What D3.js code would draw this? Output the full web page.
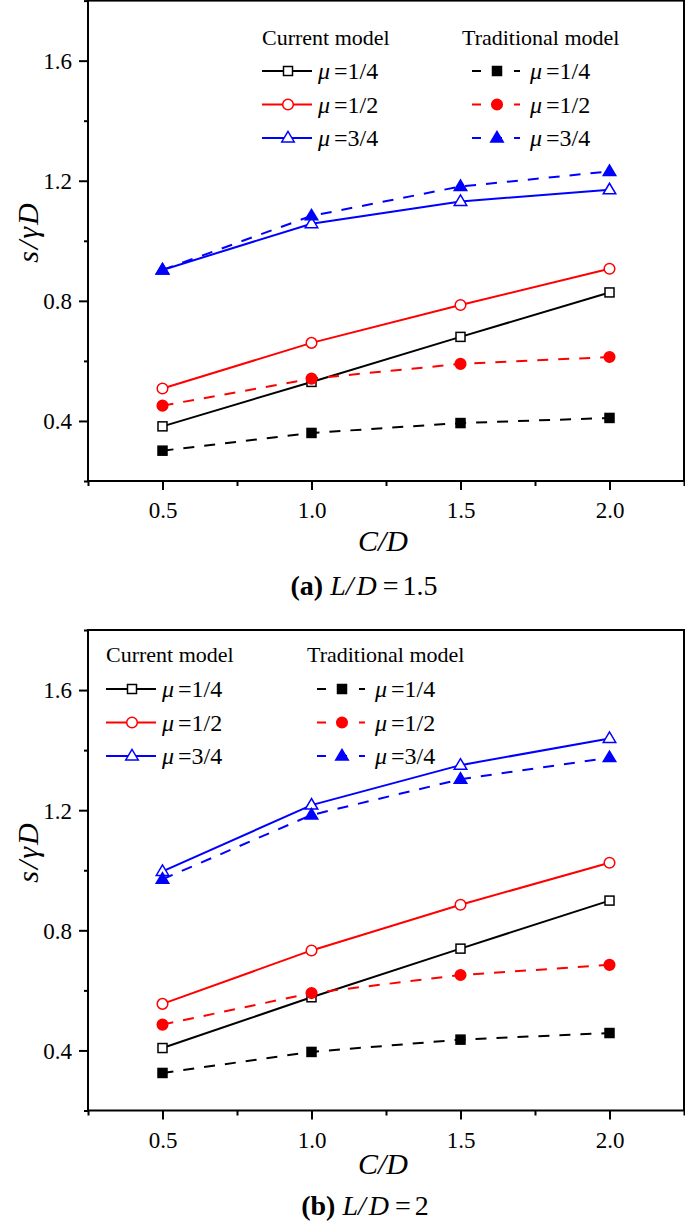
<!DOCTYPE html>
<html>
<head>
<meta charset="utf-8">
<script src="https://cdn.jsdelivr.net/npm/d3@7"></script>
<style>
  body { margin: 0; background: #fff; }
  svg { display: block; }
  svg text { font-family: "Liberation Serif", "DejaVu Serif", serif; }
</style>
</head>
<body>
<svg id="chart" width="685" height="1227"></svg>
<script>
// ---- Data ----
const xValues = [0.5, 1.0, 1.5, 2.0];
const xTicks = [0.5, 1.0, 1.5, 2.0];
const yTicks = [0.4, 0.8, 1.2, 1.6];
const muLabels = ["1/4", "1/2", "3/4"];
const seriesColors = ["#000000", "#ff0000", "#0000ff"];
const seriesShapes = ["square", "circle", "triangle"];

// Panel (a) L/D = 1.5
const aCurrentMu14 = [0.382, 0.530, 0.680, 0.828];
const aCurrentMu12 = [0.508, 0.660, 0.786, 0.907];
const aCurrentMu34 = [0.903, 1.057, 1.131, 1.170];
const aTraditionalMu14 = [0.301, 0.360, 0.393, 0.410];
const aTraditionalMu12 = [0.451, 0.541, 0.590, 0.613];
const aTraditionalMu34 = [0.903, 1.083, 1.181, 1.231];

// Panel (b) L/D = 2
const bCurrentMu14 = [0.408, 0.577, 0.739, 0.899];
const bCurrentMu12 = [0.555, 0.733, 0.885, 1.025];
const bCurrentMu34 = [0.996, 1.217, 1.350, 1.439];
const bTraditionalMu14 = [0.325, 0.395, 0.436, 0.458];
const bTraditionalMu12 = [0.486, 0.591, 0.651, 0.685];
const bTraditionalMu34 = [0.970, 1.184, 1.303, 1.375];

const xDomain = [0.25, 2.25];
const yDomain = [0.2, 1.8];
const SERIF = "Liberation Serif";

const svg = d3.select("#chart");

function drawMarker(g, shape, x, y, color, filled) {
  const fill = filled ? color : "#ffffff";
  if (shape === "square") {
    g.append("rect").attr("x", x - 4.5).attr("y", y - 4.5).attr("width", 9).attr("height", 9)
      .attr("fill", fill).attr("stroke", color).attr("stroke-width", 1.5);
  } else if (shape === "circle") {
    g.append("circle").attr("cx", x).attr("cy", y).attr("r", 5.3)
      .attr("fill", fill).attr("stroke", color).attr("stroke-width", 1.5);
  } else {
    const h = 10.5, w = 12.5;
    const pts = [[x, y - h * 0.62], [x - w / 2, y + h * 0.38], [x + w / 2, y + h * 0.38]];
    g.append("path").attr("d", "M" + pts.map(p => p.join(",")).join("L") + "Z")
      .attr("fill", fill).attr("stroke", color).attr("stroke-width", 1.5).attr("stroke-linejoin", "miter");
  }
}

function muText(g, x, y, lab) {
  const t = g.append("text").attr("x", x).attr("y", y).attr("font-size", 24).attr("font-family", SERIF);
  t.append("tspan").attr("font-style", "italic").text("μ");
  t.append("tspan").attr("dx", 4).text("=" + lab);
}

function drawPanel(cfg) {
  const g = svg.append("g");
  const x = d3.scaleLinear().domain(xDomain).range([cfg.left, cfg.right]);
  const y = d3.scaleLinear().domain(yDomain).range([cfg.bottom, cfg.top]);

  const yMinor = d3.range(0.2, 1.81, 0.2).map(v => +v.toFixed(2)).filter(v => !yTicks.some(t => Math.abs(t - v) < 1e-6));
  const xMinor = d3.range(0.25, 2.26, 0.25).map(v => +v.toFixed(2)).filter(v => !xTicks.some(t => Math.abs(t - v) < 1e-6));

  const yAxis = g.append("g").attr("transform", `translate(${cfg.left},0)`)
    .call(d3.axisLeft(y).tickValues(yTicks).tickFormat(d3.format(".1f")).tickSize(9).tickPadding(7));
  g.append("g").attr("transform", `translate(${cfg.left},0)`)
    .call(d3.axisLeft(y).tickValues(yMinor).tickFormat("").tickSize(4));
  const xAxis = g.append("g").attr("transform", `translate(0,${cfg.bottom})`)
    .call(d3.axisBottom(x).tickValues(xTicks).tickFormat(d3.format(".1f")).tickSize(9).tickPadding(12));
  g.append("g").attr("transform", `translate(0,${cfg.bottom})`)
    .call(d3.axisBottom(x).tickValues(xMinor).tickFormat("").tickSize(5));

  g.selectAll(".domain").remove();
  g.selectAll("g").attr("font-family", SERIF);
  g.selectAll(".tick line").attr("stroke", "#000").attr("stroke-width", 2);
  g.selectAll(".tick text").attr("font-family", SERIF).attr("font-size", 23).attr("fill", "#000");
  yAxis.selectAll(".tick text").attr("dy", "0.34em");
  xAxis.selectAll(".tick text").attr("dy", "0.71em");

  // Frame
  g.append("rect").attr("x", cfg.left).attr("y", cfg.top)
    .attr("width", cfg.right - cfg.left).attr("height", cfg.bottom - cfg.top)
    .attr("fill", "none").attr("stroke", "#000").attr("stroke-width", 2);

  const line = d3.line().x((d, i) => x(xValues[i])).y(d => y(d));

  cfg.current.forEach((vals, k) => {
    g.append("path").attr("d", line(vals)).attr("fill", "none")
      .attr("stroke", seriesColors[k]).attr("stroke-width", 2);
    vals.forEach((v, i) => drawMarker(g, seriesShapes[k], x(xValues[i]), y(v), seriesColors[k], false));
  });
  cfg.traditional.forEach((vals, k) => {
    g.append("path").attr("d", line(vals)).attr("fill", "none")
      .attr("stroke", seriesColors[k]).attr("stroke-width", 2).attr("stroke-dasharray", "11,10");
    vals.forEach((v, i) => drawMarker(g, seriesShapes[k], x(xValues[i]), y(v), seriesColors[k], true));
  });

  // Legend
  const L = cfg.legend;
  const rowGap = 33.5;
  g.append("text").attr("x", L.cx).attr("y", L.titleY).attr("font-size", 22).attr("font-family", SERIF).text("Current model");
  g.append("text").attr("x", L.tx).attr("y", L.titleY).attr("font-size", 22).attr("font-family", SERIF).text("Traditional model");
  muLabels.forEach((lab, k) => {
    const ry = L.row1 + k * rowGap;
    g.append("line").attr("x1", L.cx).attr("x2", L.cx + 50).attr("y1", ry).attr("y2", ry)
      .attr("stroke", seriesColors[k]).attr("stroke-width", 2);
    drawMarker(g, seriesShapes[k], L.cx + 26, ry, seriesColors[k], false);
    muText(g, L.cx + 56, ry + 8, lab);
    g.append("line").attr("x1", L.tx + 10).attr("x2", L.tx + 58).attr("y1", ry).attr("y2", ry)
      .attr("stroke", seriesColors[k]).attr("stroke-width", 2).attr("stroke-dasharray", "9,12");
    drawMarker(g, seriesShapes[k], L.tx + 35, ry, seriesColors[k], true);
    muText(g, L.tx + 68, ry + 8, lab);
  });

  // Axis titles
  g.append("text").attr("x", (cfg.left + cfg.right) / 2 - 3).attr("y", cfg.xTitleY)
    .attr("text-anchor", "middle").attr("font-size", 30).attr("font-style", "italic")
    .attr("font-family", SERIF).text("C/D");
  g.append("text").attr("transform", `translate(38,${cfg.yTitleY}) rotate(-90)`)
    .attr("text-anchor", "middle").attr("font-size", 30).attr("font-style", "italic")
    .attr("letter-spacing", 2).attr("font-family", SERIF).text("s/γD");

  // Caption
  const cap = g.append("text").attr("x", cfg.capX).attr("y", cfg.capY)
    .attr("text-anchor", "middle").attr("font-size", 28).attr("font-family", SERIF);
  cap.append("tspan").attr("font-weight", "bold").text(cfg.capLetter);
  cap.append("tspan").attr("font-style", "italic").attr("dx", 7).text("L/");
  cap.append("tspan").attr("font-style", "italic").attr("dx", 3).text("D");
  cap.append("tspan").attr("dx", 6).text("=");
  cap.append("tspan").attr("dx", 4).text(cfg.capValue);
}

drawPanel({
  left: 88, right: 684, top: 0.6, bottom: 481,
  current: [aCurrentMu14, aCurrentMu12, aCurrentMu34],
  traditional: [aTraditionalMu14, aTraditionalMu12, aTraditionalMu34],
  legend: { cx: 262, tx: 462, titleY: 45, row1: 71 },
  xTitleY: 551, yTitleY: 232,
  capX: 364, capY: 595, capLetter: "(a)", capValue: "1.5"
});

drawPanel({
  left: 88, right: 684, top: 630, bottom: 1110.5,
  current: [bCurrentMu14, bCurrentMu12, bCurrentMu34],
  traditional: [bTraditionalMu14, bTraditionalMu12, bTraditionalMu34],
  legend: { cx: 106, tx: 307, titleY: 662, row1: 689 },
  xTitleY: 1174, yTitleY: 852,
  capX: 365, capY: 1215, capLetter: "(b)", capValue: "2"
});
</script>
</body>
</html>
